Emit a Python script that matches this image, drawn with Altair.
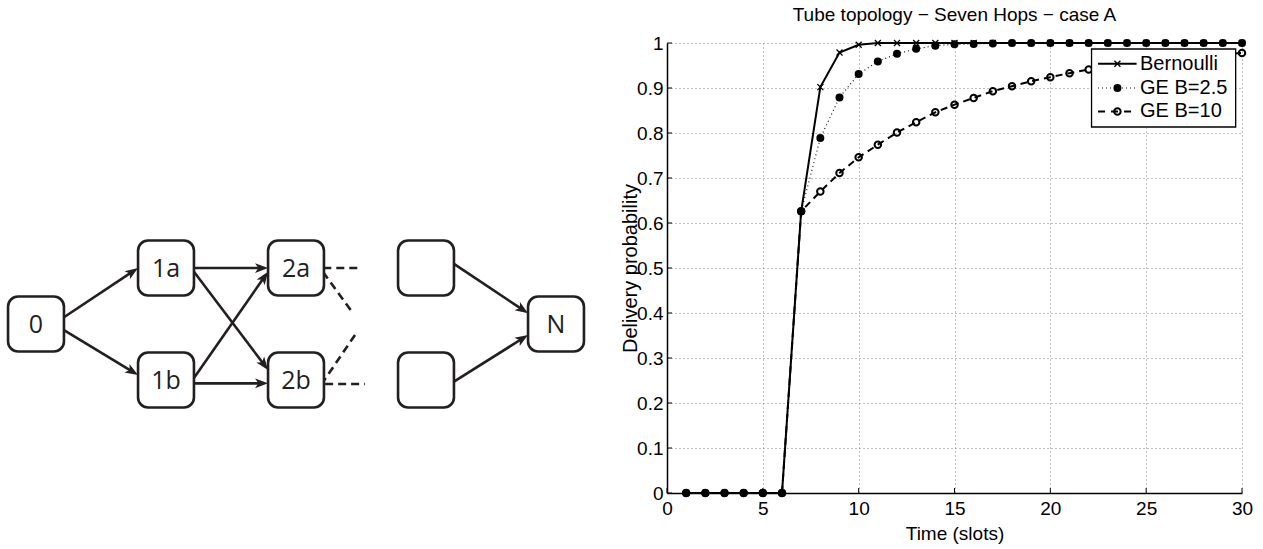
import math
import altair as alt
import pandas as pd

# ---------------- chart data ----------------
time_slots = list(range(1, 31))
bernoulli = [0, 0, 0, 0, 0, 0, 0.626, 0.902, 0.979, 0.996] + [1.0] * 20
ge_b25 = [0, 0, 0, 0, 0, 0, 0.626, 0.789, 0.879, 0.931, 0.959, 0.976, 0.987,
          0.994, 0.997, 0.998, 0.999] + [1.0] * 13
ge_b10 = [0, 0, 0, 0, 0, 0, 0.626, 0.670, 0.711, 0.746, 0.774, 0.801, 0.824,
          0.846, 0.863, 0.878, 0.893, 0.904, 0.915, 0.924, 0.933, 0.941, 0.948,
          0.954, 0.959, 0.964, 0.968, 0.972, 0.975, 0.978]
series_names = ["Bernoulli", "GE B=2.5", "GE B=10"]
x_ticks = [0, 5, 10, 15, 20, 25, 30]
y_ticks = [0, 0.1, 0.2, 0.3, 0.4, 0.5, 0.6, 0.7, 0.8, 0.9, 1.0]
chart_title = "Tube topology \u2212 Seven Hops \u2212 case A"
x_title = "Time (slots)"
y_title = "Delivery probability"

# ---------------- diagram data ----------------
node_labels = ["0", "1a", "1b", "2a", "2b", "", "", "N"]
node_col = [0, 1, 1, 2, 2, 3, 3, 4]
node_row = [0, -0.5, 0.5, -0.5, 0.5, -0.5, 0.5, 0]
edge_from = [0, 0, 1, 1, 2, 2, 5, 6]
edge_to = [1, 2, 3, 4, 3, 4, 7, 7]
edge_from_off = [-0.06, 0.054, 0.0, 0.033, -0.018, 0.03, -0.037, 0.015]
edge_to_off = [0.0, -0.045, 0.0, -0.09, 0.033, 0.03, -0.095, 0.098]
dash_x1 = [2.21, 2.224, 2.208, 2.454]
dash_y1 = [-0.5, 0.536, -0.464, 0.098]
dash_x2 = [2.51, 2.53, 2.431, 2.208]
dash_y2 = [-0.5, 0.536, -0.107, 0.518]

# ---------------- layout / style constants ----------------
W, H = 575, 450
PAD_L, PAD_T = 667, 43
PX_COL, PX_ROW = 130.0, 112.0      # diagram: pixels per column / row unit
ORG_X, ORG_Y = 36.0, 324.0         # page position of column 0 / row 0
BOX_W, BOX_H = 0.215, 0.245        # node half sizes in diagram units
FONT = "Liberation Sans"
FS = 19
INK = "#231f20"

# ---------------- plot ----------------
xs = alt.Scale(domain=[0, 30], nice=False, zero=False)
ys = alt.Scale(domain=[0, 1], nice=False)
x_axis = alt.Axis(values=x_ticks, grid=True, gridDash=[1, 3], gridColor="#808080",
                  gridWidth=1, ticks=False, domainColor="black", domainWidth=1.5,
                  labelFont=FONT, labelFontSize=FS, labelColor="black", labelPadding=6,
                  labelFlush=False, labelOverlap=False, title=x_title, titleFont=FONT,
                  titleFontSize=FS, titleFontWeight="normal", titleColor="black",
                  titlePadding=6)
y_axis = alt.Axis(values=y_ticks, format=".1~f", grid=True, gridDash=[1, 3],
                  gridColor="#808080", gridWidth=1, ticks=False, domainColor="black",
                  domainWidth=1.5, labelFont=FONT, labelFontSize=FS, labelColor="black",
                  labelPadding=4, labelFlush=False, labelOverlap=False, title=y_title,
                  titleFont=FONT, titleFontSize=FS + 1, titleFontWeight="normal",
                  titleColor="black", titleAngle=270, titleX=-31, titleY=225,
                  titleAlign="center", titleBaseline="alphabetic")


def X(f):
    return alt.X(f, type="quantitative", scale=xs, axis=x_axis)


def Y(f):
    return alt.Y(f, type="quantitative", scale=ys, axis=y_axis)


df = pd.DataFrame({
    "t": time_slots * 3,
    "p": bernoulli + ge_b25 + ge_b10,
    "s": [series_names[0]] * 30 + [series_names[1]] * 30 + [series_names[2]] * 30,
})
base = alt.Chart(df)
XPATH = "M-1,-1L1,1M-1,1L1,-1"


def series(name):
    return base.transform_filter(alt.datum.s == name)


bern_line = series("Bernoulli").mark_line(color="black", strokeWidth=2).encode(x=X("t"), y=Y("p"))
bern_pts = series("Bernoulli").mark_point(shape=XPATH, size=36, filled=False, strokeWidth=1.3,
                                          color="black", opacity=1).encode(x=X("t"), y=Y("p"))
g25_line = series("GE B=2.5").mark_line(color="black", strokeWidth=1.1, strokeDash=[1, 3]).encode(x=X("t"), y=Y("p"))
g25_pts = series("GE B=2.5").mark_point(shape="circle", size=64, filled=True, color="black",
                                        opacity=1).encode(x=X("t"), y=Y("p"))
g10_line = series("GE B=10").mark_line(color="black", strokeWidth=2, strokeDash=[7, 5]).encode(x=X("t"), y=Y("p"))
g10_pts = series("GE B=10").mark_point(shape="circle", size=42, filled=False, strokeWidth=2,
                                       color="black", opacity=1).encode(x=X("t"), y=Y("p"))

ytick_rules = alt.Chart(pd.DataFrame({"v": y_ticks})).mark_rule(color="black", strokeWidth=1).encode(
    y=Y("v"), x=alt.value(0), x2=alt.value(5))
xtick_rules = alt.Chart(pd.DataFrame({"v": x_ticks})).mark_rule(color="black", strokeWidth=1).encode(
    x=X("v"), y=alt.value(H), y2=alt.value(H - 5))

# legend (positioned in axes units)
leg_x0, leg_x1, leg_y0, leg_y1 = 22.15, 29.67, 0.8133, 0.9867
leg_rows = [0.954, 0.900, 0.848]
leg_line_x = [22.49, 24.50]
leg_mark_x = 23.5
leg_text_x = 24.68

leg_box = alt.Chart(pd.DataFrame({"a": [leg_x0], "b": [leg_x1], "c": [leg_y0], "d": [leg_y1]})).mark_rect(
    fill="white", stroke="black", strokeWidth=1.3).encode(x=X("a"), x2="b", y=Y("c"), y2="d")
leg_df = pd.DataFrame({"name": series_names, "y": leg_rows, "xa": [leg_line_x[0]] * 3,
                       "xb": [leg_line_x[1]] * 3, "xm": [leg_mark_x] * 3, "xt": [leg_text_x] * 3})
lb = alt.Chart(leg_df)


def leg(name):
    return lb.transform_filter(alt.datum.name == name)


leg_layers = [
    leg("Bernoulli").mark_rule(color="black", strokeWidth=2).encode(x=X("xa"), x2="xb", y=Y("y")),
    leg("Bernoulli").mark_point(shape=XPATH, size=36, filled=False, strokeWidth=1.3, color="black",
                                opacity=1).encode(x=X("xm"), y=Y("y")),
    leg("GE B=2.5").mark_rule(color="black", strokeWidth=1.1, strokeDash=[1, 3]).encode(x=X("xa"), x2="xb", y=Y("y")),
    leg("GE B=2.5").mark_point(shape="circle", size=64, filled=True, color="black",
                               opacity=1).encode(x=X("xm"), y=Y("y")),
    leg("GE B=10").mark_rule(color="black", strokeWidth=2, strokeDash=[7, 6]).encode(x=X("xa"), x2="xb", y=Y("y")),
    leg("GE B=10").mark_point(shape="circle", size=42, filled=False, strokeWidth=2, color="black",
                              opacity=1).encode(x=X("xm"), y=Y("y")),
    lb.mark_text(align="left", baseline="middle", font=FONT, fontSize=20, color="black").encode(
        x=X("xt"), y=Y("y"), text="name:N"),
]

plot = alt.layer(ytick_rules, xtick_rules, bern_line, bern_pts, g25_line, g25_pts,
                 g10_line, g10_pts, leg_box, *leg_layers)

# ---------------- diagram ----------------
dx_dom = [(PAD_L - ORG_X) / PX_COL, (PAD_L + W - ORG_X) / PX_COL]
dy_dom = [(PAD_T - ORG_Y) / PX_ROW, (PAD_T + H - ORG_Y) / PX_ROW]
dxs = alt.Scale(domain=dx_dom, nice=False, zero=False)
dys = alt.Scale(domain=dy_dom, nice=False, zero=False, reverse=True)


def DX(f):
    return alt.X(f, type="quantitative", scale=dxs, axis=None)


def DY(f):
    return alt.Y(f, type="quantitative", scale=dys, axis=None)


nodes = pd.DataFrame({"label": node_labels, "c": node_col, "r": node_row})
nodes["x0"] = nodes["c"] - BOX_W
nodes["x1"] = nodes["c"] + BOX_W
nodes["y0"] = nodes["r"] - BOX_H
nodes["y1"] = nodes["r"] + BOX_H

rows = []
for f, t, of, ot in zip(edge_from, edge_to, edge_from_off, edge_to_off):
    x1 = node_col[f] + BOX_W
    y1 = node_row[f] + of
    x2 = node_col[t] - BOX_W
    y2 = node_row[t] + ot
    dxp = (x2 - x1) * PX_COL
    dyp = (y2 - y1) * PX_ROW
    L = math.hypot(dxp, dyp)
    k = 8.0 / L
    ang = math.degrees(math.atan2(dyp, dxp)) % 360
    rows.append({"x1": x1, "y1": y1, "x2": x2, "y2": y2,
                 "xs": x2 - (x2 - x1) * k, "ys": y2 - (y2 - y1) * k, "ang": ang})
edges = pd.DataFrame(rows)
dashes = pd.DataFrame({"x1": dash_x1, "y1": dash_y1, "x2": dash_x2, "y2": dash_y2})

ARROW = "M0,0L-2,-0.75L-1.5,0L-2,0.75Z"
d_dash = alt.Chart(dashes).mark_rule(color=INK, strokeWidth=2.6, strokeDash=[8, 5]).encode(
    x=DX("x1"), y=DY("y1"), x2="x2", y2="y2")
d_shaft = alt.Chart(edges).mark_rule(color=INK, strokeWidth=2.6).encode(
    x=DX("x1"), y=DY("y1"), x2="xs", y2="ys")
d_head = alt.Chart(edges).mark_point(shape=ARROW, size=169, filled=True, color=INK, opacity=1,
                                     strokeWidth=0).encode(
    x=DX("x2"), y=DY("y2"), angle=alt.Angle("ang:Q", scale=None))
d_box = alt.Chart(nodes).mark_rect(cornerRadius=10, fill="white", stroke=INK, strokeWidth=2.6).encode(
    x=DX("x0"), x2="x1", y=DY("y0"), y2="y1")
d_text = alt.Chart(nodes).mark_text(font="Open Sans", fontSize=25, color=INK, align="center",
                                    baseline="middle", dy=1).encode(x=DX("c"), y=DY("r"), text="label:N")
diagram = alt.layer(d_dash, d_shaft, d_head, d_box, d_text)

chart = alt.layer(diagram, plot).resolve_scale(x="independent", y="independent").properties(
    width=W, height=H,
    autosize=alt.AutoSizeParams(type="none"),
    padding={"left": PAD_L, "top": PAD_T, "right": 1263 - PAD_L - W, "bottom": 549 - PAD_T - H},
    background="white",
    title=alt.TitleParams(text=chart_title, anchor="middle", font=FONT, fontSize=FS,
                          fontWeight="normal", color="black", offset=9),
).configure_view(stroke=None)

chart.save("out.html", embed_options={"renderer": "svg", "actions": False})
